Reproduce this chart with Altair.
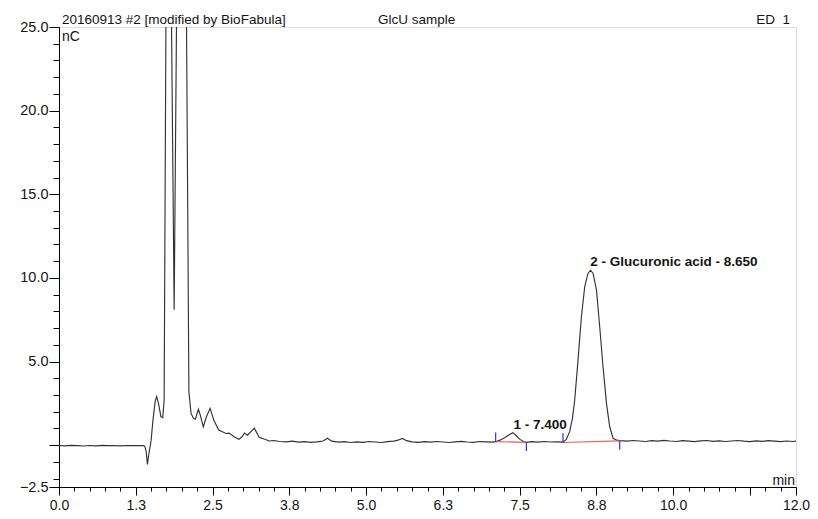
import altair as alt
import pandas as pd

# ---- chromatogram trace (time in min, signal in nC) ----
trace_t = [
    0.00, 0.10, 0.20, 0.30, 0.40, 0.50, 0.60, 0.70, 0.80, 0.90, 1.00, 1.10, 1.20, 1.30, 1.38,
    1.40, 1.42, 1.44, 1.46, 1.50, 1.53, 1.565, 1.59, 1.62, 1.66, 1.69, 1.712, 1.742, 1.78,
    1.83, 1.875, 1.915, 1.98, 2.075, 2.115, 2.15, 2.19, 2.22, 2.27, 2.30, 2.35, 2.40, 2.46,
    2.52, 2.60, 2.66, 2.72, 2.77, 2.85, 2.93, 2.98, 3.02, 3.07, 3.12, 3.18, 3.26, 3.35, 3.42,
    3.50, 3.59, 3.70, 3.80, 3.90, 4.00, 4.10, 4.20, 4.30, 4.37, 4.44, 4.55, 4.65, 4.75, 4.85,
    4.95, 5.05, 5.15, 5.25, 5.35, 5.45, 5.52, 5.59, 5.66, 5.75, 5.85, 5.95, 6.05, 6.15, 6.25,
    6.35, 6.45, 6.55, 6.65, 6.75, 6.85, 6.95, 7.05, 7.11, 7.18, 7.255, 7.33, 7.39, 7.45, 7.50,
    7.56, 7.61, 7.70, 7.80, 7.90, 8.00, 8.10, 8.206, 8.26, 8.315, 8.36, 8.397, 8.451, 8.506,
    8.560, 8.614, 8.653, 8.695, 8.751, 8.804, 8.858, 8.914, 8.967, 9.022, 9.08, 9.13, 9.25,
    9.35, 9.45, 9.55, 9.65, 9.75, 9.85, 9.95, 10.05, 10.15, 10.25, 10.35, 10.45, 10.55, 10.65,
    10.75, 10.85, 10.95, 11.05, 11.15, 11.25, 11.35, 11.45, 11.55, 11.65, 11.75, 11.85, 11.95,
    12.00,
]
trace_v = [
    -0.02, -0.04, -0.01, -0.03, -0.05, -0.02, -0.04, -0.01, -0.03, -0.02, -0.04, -0.02, -0.03, -0.02, -0.03,
    -0.10, -0.40, -1.15, -0.60, 0.30, 1.50, 2.60, 2.90, 2.50, 1.70, 1.65, 2.70, 26.0, 48.0,
    26.0, 8.1, 26.0, 52.0, 26.0, 3.2, 1.9, 1.6, 1.55, 2.15, 1.8, 1.1, 1.7, 2.2,
    1.5, 0.9, 0.8, 0.7, 0.72, 0.5, 0.35, 0.5, 0.72, 0.6, 0.8, 1.01, 0.47, 0.35, 0.25,
    0.28, 0.22, 0.20, 0.24, 0.18, 0.21, 0.17, 0.20, 0.25, 0.42, 0.24, 0.18, 0.21, 0.16, 0.20,
    0.17, 0.22, 0.19, 0.16, 0.21, 0.24, 0.30, 0.40, 0.27, 0.20, 0.17, 0.21, 0.18, 0.22, 0.19,
    0.16, 0.20, 0.23, 0.19, 0.17, 0.22, 0.20, 0.18, 0.21, 0.30, 0.45, 0.62, 0.75, 0.55, 0.36,
    0.22, 0.17, 0.21, 0.18, 0.22, 0.19, 0.20, 0.18, 0.35, 0.81, 1.6, 2.7, 5.1, 7.68,
    9.48, 10.28, 10.45, 10.28, 9.28, 7.08, 4.69, 2.5, 1.1, 0.41, 0.30, 0.27, 0.24,
    0.28, 0.25, 0.22, 0.27, 0.24, 0.29, 0.25, 0.22, 0.27, 0.24, 0.21, 0.26, 0.28, 0.23,
    0.26, 0.22, 0.25, 0.28, 0.24, 0.21, 0.26, 0.23, 0.27, 0.24, 0.21, 0.25, 0.22,
    0.24,
]

# ---- peak annotations ----
peak_t = [7.40, 8.65]
peak_v = [0.75, 10.45]
peak_labels = ["1 - 7.400", "2 - Glucuronic acid - 8.650"]

# ---- integration baselines (red) ----
base_t = [7.11, 7.61, 8.206, 9.13]
base_v = [0.21, 0.17, 0.16, 0.26]
base_peak = [1, 1, 2, 2]

# ---- peak start / end markers (blue) ----
mark_t = [7.11, 7.61, 8.206, 9.13]
mark_v0 = [0.21, 0.17, 0.16, 0.26]
mark_v1 = [0.76, -0.35, 0.71, -0.26]

# ---- axis ticks ----
x_ticks = [i * 0.25 for i in range(49)]
y_ticks = [-2.5] + list(range(-2, 26))

header_texts = ["20160913 #2 [modified by BioFabula]", "GlcU sample", "ED\u00a0\u00a01"]
y_unit = "nC"
x_unit = "min"

FONT = "Liberation Sans"
INK = "#141414"

trace_df = pd.DataFrame({"t": trace_t, "v": trace_v})
peak_df = pd.DataFrame({"t": peak_t, "v": peak_v, "label": peak_labels})
base_df = pd.DataFrame({"t": base_t, "v": base_v, "peak": base_peak})
mark_df = pd.DataFrame({"t": mark_t, "v0": mark_v0, "v1": mark_v1})

xscale = alt.Scale(domain=[0, 12], nice=False, zero=False)
yscale = alt.Scale(domain=[-2.5, 25], nice=False, zero=False)

X_MAJOR = "(datum.value % 1.25 === 0 || datum.value === 12)"
xaxis = alt.Axis(
    values=x_ticks, tickCount=500,
    tickSize={"condition": {"test": X_MAJOR, "value": 8}, "value": 4},
    labelExpr="(" + X_MAJOR + " && datum.value !== 11.25) ? format(datum.value, '.1f') : ''",
    labelOverlap=False, labelFlush=False, grid=False, title=None,
    domainColor="black", tickColor="black", labelColor=INK,
    labelFont=FONT, labelFontSize=14, labelPadding=3,
)
yaxis = alt.Axis(
    values=y_ticks, tickCount=500,
    tickSize={"condition": {"test": "datum.value % 5 === 0 || datum.value === -2.5", "value": 10}, "value": 6},
    labelExpr="((datum.value % 5 === 0 && datum.value !== 0) || datum.value === -2.5) ? format(datum.value, '.1f') : ''",
    labelOverlap=False, labelFlush=False, grid=False, title=None,
    domainColor="black", tickColor="black", labelColor=INK,
    labelFont=FONT, labelFontSize=14.5, labelPadding=1,
)

trace = alt.Chart(trace_df).mark_line(color="#333333", strokeWidth=1.15, clip=True).encode(
    x=alt.X("t:Q", scale=xscale, axis=xaxis),
    y=alt.Y("v:Q", scale=yscale, axis=yaxis),
)

baseline = alt.Chart(base_df).mark_line(color="#f25c5c", strokeWidth=1.2, clip=True).encode(
    x="t:Q", y="v:Q", detail="peak:N"
)

markers = alt.Chart(mark_df).mark_rule(color="#2a2aff", strokeWidth=1.2).encode(
    x="t:Q", y="v0:Q", y2="v1:Q"
)

labels = alt.Chart(peak_df).mark_text(
    align="left", baseline="alphabetic", dy=-4, font=FONT, fontSize=13.5, fontWeight="bold", color=INK
).encode(x="t:Q", y="v:Q", text="label:N")

def fixed_text(txt, xpx, ypx, align="left", baseline="alphabetic", size=13.5):
    return alt.Chart(pd.DataFrame({"s": [txt]})).mark_text(
        align=align, baseline=baseline, font=FONT, fontSize=size, color=INK
    ).encode(x=alt.value(xpx), y=alt.value(ypx), text="s:N")

PLOT_W, PLOT_H = 737, 460

h1 = fixed_text(header_texts[0], 3, -3)
h2 = fixed_text(header_texts[1], 319, -3)
h3 = fixed_text(header_texts[2], 731, -3, align="right")
nc = fixed_text(y_unit, 3, 3, baseline="top", size=14)
mn = fixed_text(x_unit, PLOT_W - 1, PLOT_H - 2, align="right", size=14)

chart = alt.layer(trace, baseline, markers, labels, h1, h2, h3, nc, mn).properties(
    width=PLOT_W, height=PLOT_H,
    padding={"left": 51, "top": 19, "right": 14, "bottom": 24},
    autosize=alt.AutoSizeParams(type="none"),
).configure_view(stroke="black", strokeWidth=1).configure(background="white")

chart.save("out.html", embed_options={"renderer": "svg", "actions": False})
